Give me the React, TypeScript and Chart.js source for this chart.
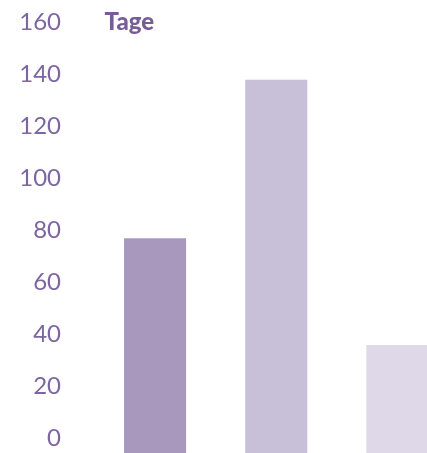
import React, { useEffect, useRef } from "react";
import { Chart, registerables } from "chart.js";

Chart.register(...registerables);

const categories = ["A", "B", "C"];
const values = [77, 138, 36];
const yTickValues = [0, 20, 40, 60, 80, 100, 120, 140, 160];
const unitLabel = "Tage";

const barColors = ["#a898bd", "#c8bfd8", "#ded8e8"];
const labelColor = "#7d65a0";
const unitColor = "#765d98";

const unitPlugin = {
  id: "unitLabel",
  afterDraw(chart: any) {
    const { ctx, chartArea, scales } = chart;
    const y = scales.y.getPixelForValue(yTickValues[yTickValues.length - 1]);
    ctx.save();
    ctx.font = "900 24px Lato";
    ctx.fillStyle = unitColor;
    ctx.textAlign = "left";
    ctx.textBaseline = "alphabetic";
    ctx.fillText(unitLabel, chartArea.left + 10, y + 7.5);
    ctx.restore();
  },
};

export default function App() {
  const ref = useRef<HTMLCanvasElement | null>(null);

  useEffect(() => {
    if (!ref.current) return;
    const chart = new Chart(ref.current, {
      type: "bar",
      data: {
        labels: categories,
        datasets: [
          {
            data: values,
            backgroundColor: barColors,
            borderWidth: 0,
            base: -5.6,
            categoryPercentage: 1,
            barPercentage: 0.512,
          } as any,
        ],
      },
      options: {
        animation: false,
        responsive: false,
        devicePixelRatio: 1,
        layout: { padding: 0 },
        plugins: {
          legend: { display: false },
          tooltip: { enabled: false },
          title: { display: false },
        },
        scales: {
          x: { display: false },
          y: {
            min: -5.6,
            max: 168.7,
            grid: { display: false, drawTicks: false },
            border: { display: false },
            afterBuildTicks: (scale: any) => {
              scale.ticks = yTickValues.map((v) => ({ value: v }));
            },
            afterFit: (scale: any) => {
              scale.width = 94.5;
              scale.paddingTop = 0;
              scale.paddingBottom = 0;
            },
            ticks: {
              color: labelColor,
              padding: 33.5,
              font: { family: "Lato", size: 24, weight: "normal" },
            },
          },
        },
      },
      plugins: [unitPlugin],
    });
    return () => chart.destroy();
  }, []);

  return (
    <div
      style={{
        position: "fixed",
        left: 0,
        top: 0,
        width: 427,
        height: 453,
        overflow: "hidden",
        background: "#fff",
      }}
    >
      <canvas ref={ref} width={458} height={453} style={{ width: 458, height: 453 }} />
    </div>
  );
}
